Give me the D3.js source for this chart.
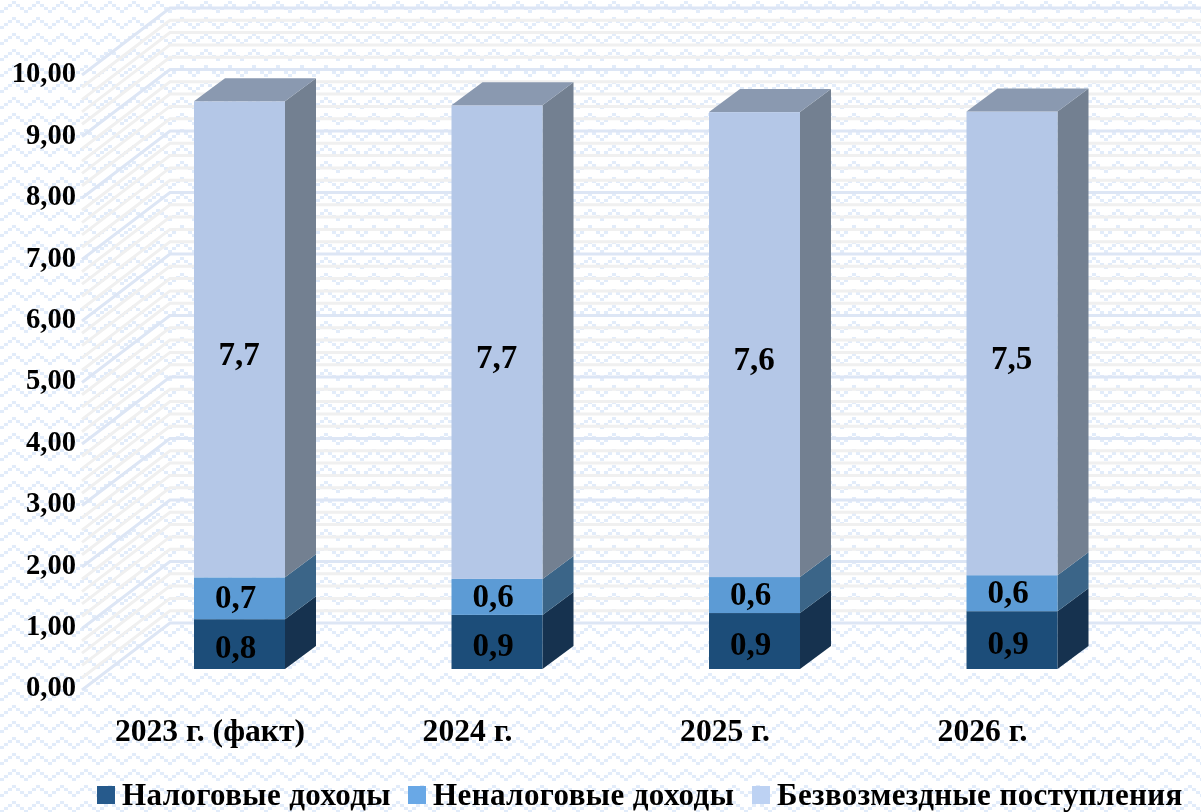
<!DOCTYPE html>
<html><head><meta charset="utf-8">
<script src="https://cdnjs.cloudflare.com/ajax/libs/d3/7.8.5/d3.min.js"></script>
<style>html,body{margin:0;padding:0;background:#fff;overflow:hidden}svg{display:block}
text{font-family:"Liberation Serif","Times New Roman",serif;font-weight:700;fill:#000}</style>
</head><body><div id="c"></div>
<script>
const categories=["2023 г. (факт)","2024 г.","2025 г.","2026 г."];
const seriesNames=["Налоговые доходы","Неналоговые доходы","Безвозмездные поступления"];
const taxIncome=[0.81,0.88,0.91,0.94];
const nonTaxIncome=[0.68,0.585,0.585,0.585];
const grants=[7.74,7.7,7.56,7.54];
const seriesValues=[taxIncome,nonTaxIncome,grants];
const majorTicks=d3.range(0,11);
const minorTicks=d3.range(0,50).map(i=>i/5).filter(v=>v%1!==0);
const frontColors=["#1f4e79","#5b9bd5","#b4c7e7"];
const sideColors=["#16324f","#3a6588","#738091"];
const topColor="#8a99b0";
const legendColors=["#255a8c","#69a8e6","#bdd2f3"];

const W=1201,H=812;
const svg=d3.select("#c").append("svg").attr("width",W).attr("height",H);
const defs=svg.append("defs");
defs.append("filter").attr("id","soft").append("feGaussianBlur").attr("stdDeviation",0.6);
defs.append("filter").attr("id","softT").append("feGaussianBlur").attr("stdDeviation",0.3);
const pat=defs.append("pattern").attr("id","wave").attr("patternUnits","userSpaceOnUse").attr("width",24).attr("height",16);
pat.append("rect").attr("width",24).attr("height",16).attr("fill","#fff");
const waveCells=[[0,10],[4,7],[8,4],[12,1],[16,4],[20,7]];
pat.selectAll("rect.c").data(waveCells).join("rect").attr("class","c")
  .attr("x",d=>d[0]).attr("y",d=>d[1]).attr("width",4).attr("height",3).attr("fill","#e2ecfa");
svg.append("rect").attr("width",W).attr("height",H).attr("fill","url(#wave)");

const x=d3.scaleBand().domain(categories).range([110.75,1140.75])
  .paddingInner(1-91/257.5).paddingOuter((1-91/257.5)/2);
const y=d3.scaleLinear().domain([0,10]).range([669,54]);
const wallDx=88,wallDy=67,frontX=82,frontShift=21;
const depthX=31,depthY=23;

const g=svg.append("g").attr("filter","url(#soft)");
const gridPath=v=>{const f=y(v)+frontShift;return d3.line()([[frontX,f],[frontX+wallDx,f-wallDy],[W+4,f-wallDy]]);};
g.selectAll("path.minor").data(minorTicks).join("path").attr("class","minor")
  .attr("d",gridPath).attr("fill","none").attr("stroke","#f0f0f0").attr("stroke-width",3);
g.selectAll("path.major").data(majorTicks).join("path").attr("class","major")
  .attr("d",gridPath).attr("fill","none").attr("stroke","#dde6f5").attr("stroke-width",3);

const rows=categories.map((c,i)=>({cat:c,s0:seriesValues[0][i],s1:seriesValues[1][i],s2:seriesValues[2][i]}));
const stack=d3.stack().keys(["s0","s1","s2"])(rows);
stack.forEach((layer,si)=>{
  layer.forEach(d=>{
    const cat=d.data.cat,x0=x(cat),x1=x0+x.bandwidth(),yb=y(d[0]),yt=y(d[1]);
    g.append("path").attr("fill",sideColors[si])
      .attr("d",d3.line()([[x1,yb],[x1+depthX,yb-depthY],[x1+depthX,yt-depthY],[x1,yt]])+"Z");
    g.append("rect").attr("x",x0).attr("y",yt).attr("width",x.bandwidth()).attr("height",yb-yt).attr("fill",frontColors[si]);
    if(si===2) g.append("path").attr("fill",topColor)
      .attr("d",d3.line()([[x0,yt],[x0+depthX,yt-depthY],[x1+depthX,yt-depthY],[x1,yt]])+"Z");
  });
});

const t=svg.append("g").attr("filter","url(#softT)");
const fmt=d3.format(".2f"),fmt1=d3.format(".1f");
const comma=s=>s.replace(".",",");
const tickY=d3.scaleLinear().domain([0,10]).range([687,73]);
t.selectAll("text.tick").data(majorTicks).join("text").attr("class","tick")
  .attr("x",76).attr("y",d=>tickY(d)).attr("dy","0.33em").attr("text-anchor","end")
  .attr("font-size",28.6).text(d=>comma(fmt(d)));

const labelDy=[3,-1,14.5],labelDx=[-4,-4,-0.5];
stack.forEach((layer,si)=>{
  t.selectAll("text.v"+si).data(layer).join("text").attr("class","v"+si)
    .attr("x",d=>x(d.data.cat)+x.bandwidth()/2+labelDx[si])
    .attr("y",d=>(y(d[0])+y(d[1]))/2+labelDy[si]).attr("dy","0.33em").attr("text-anchor","middle")
    .attr("font-size",33).text(d=>comma(fmt1(d[1]-d[0])));
});

t.selectAll("text.cat").data(categories).join("text").attr("class","cat")
  .attr("x",d=>x(d)+x.bandwidth()/2-29.5).attr("y",731).attr("dy","0.33em").attr("text-anchor","middle")
  .attr("font-size",31.6).text(d=>d);

const legendStarts=[97,408,752];
seriesNames.forEach((n,i)=>{
  const lx=legendStarts[i];
  t.append("rect").attr("x",lx).attr("y",786).attr("width",18).attr("height",18).attr("fill",legendColors[i]);
  t.append("text").attr("x",lx+25).attr("y",795).attr("dy","0.33em").attr("font-size",31).attr("letter-spacing",0.4).text(n);
});
</script></body></html>
